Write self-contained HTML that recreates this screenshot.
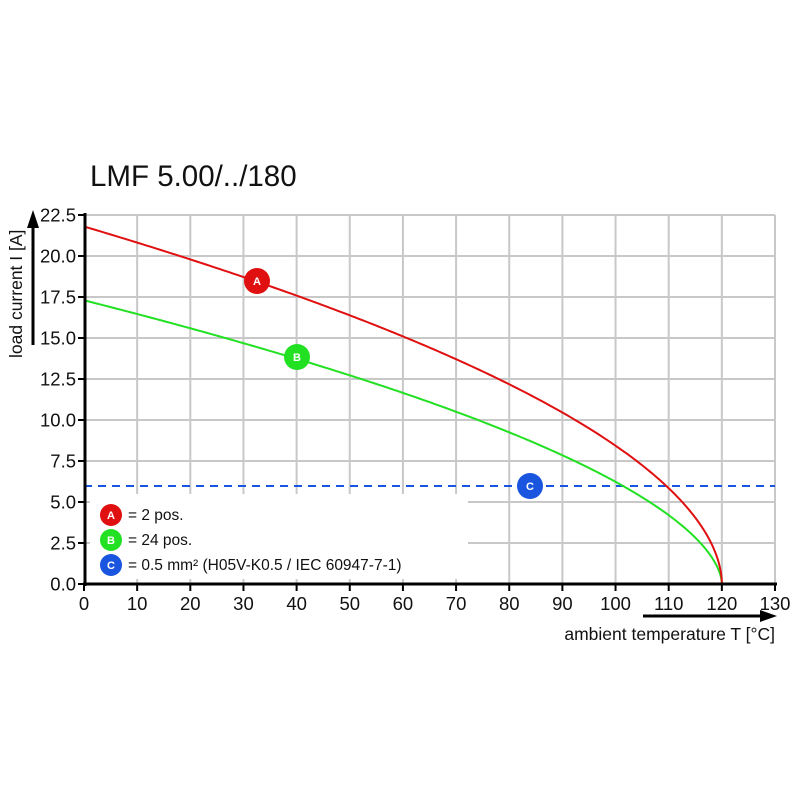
<!DOCTYPE html>
<html><head><meta charset="utf-8"><style>
body{margin:0;background:#fff}
svg text{font-family:"Liberation Sans",Arial,sans-serif}
</style></head><body>
<svg id="s" width="800" height="800" xmlns="http://www.w3.org/2000/svg">
<text x="90" y="186" font-size="29.5" fill="#111">LMF 5.00/../180</text>
<g id="grid" stroke="#c8c8c8" stroke-width="2"></g>
<rect x="90" y="494" width="378" height="85" fill="#fff"/>
<line x1="84" y1="486" x2="775" y2="486" stroke="#1a55e0" stroke-width="2" stroke-dasharray="8,6"/>
<path id="g" fill="none" stroke="#22e022" stroke-width="2"/>
<path id="r" fill="none" stroke="#e01010" stroke-width="2"/>
<line x1="85" y1="213" x2="85" y2="586" stroke="#000" stroke-width="3"/>
<line x1="83" y1="584" x2="777" y2="584" stroke="#000" stroke-width="3"/>
<g id="lab" font-size="18.5" fill="#111"></g>
<line x1="33" y1="345" x2="33" y2="225" stroke="#000" stroke-width="3"/>
<polygon points="27,228 39,228 33,210" fill="#000"/>
<text transform="translate(22,358) rotate(-90)" font-size="17.5" fill="#111">load current I [A]</text>
<line x1="643" y1="616" x2="762" y2="616" stroke="#000" stroke-width="3"/>
<polygon points="760,610 760,622 777,616" fill="#000"/>
<text x="775" y="640" font-size="17.5" fill="#111" text-anchor="end">ambient temperature T [°C]</text>
<g font-size="11" font-weight="bold" fill="#fff" text-anchor="middle">
<circle cx="257" cy="281" r="13" fill="#e01010"/><text x="257" y="285">A</text>
<circle cx="297" cy="357" r="13" fill="#22e022"/><text x="297" y="361">B</text>
<circle cx="530" cy="486" r="13" fill="#1a55e0"/><text x="530" y="490">C</text>
<circle cx="111" cy="515" r="11" fill="#e01010"/><text x="111" y="519">A</text>
<circle cx="111" cy="540" r="11" fill="#22e022"/><text x="111" y="544">B</text>
<circle cx="111" cy="565" r="11" fill="#1a55e0"/><text x="111" y="569">C</text>
</g>
<g font-size="15.5" fill="#111">
<text x="128" y="520">= 2 pos.</text>
<text x="128" y="545">= 24 pos.</text>
<text x="128" y="570">= 0.5 mm² (H05V-K0.5 / IEC 60947-7-1)</text>
</g>
</svg>
<script>
var ns="http://www.w3.org/2000/svg";
function X(t){return 84+t*(691/130)}
function Y(i){return 584-i*(369/22.5)}
var g=document.getElementById('grid'),lab=document.getElementById('lab');
function el(p,tag,a,txt){var e=document.createElementNS(ns,tag);for(var k in a)e.setAttribute(k,a[k]);if(txt)e.textContent=txt;p.appendChild(e);return e}
for(var t=0;t<=130;t+=10){var x=X(t);if(t>0)el(g,'line',{x1:x,y1:215,x2:x,y2:584});
el(lab,'line',{x1:x,y1:584,x2:x,y2:591,stroke:'#000','stroke-width':2});
el(lab,'text',{x:x,y:610,'text-anchor':'middle'},String(t));}
for(var k=0;k<=9;k++){var v=k*2.5,y=Y(v);if(k>0)el(g,'line',{x1:84,y1:y,x2:775,y2:y});
el(lab,'line',{x1:78,y1:y,x2:85,y2:y,stroke:'#000','stroke-width':2});
el(lab,'text',{x:76,y:y+6.5,'text-anchor':'end'},v.toFixed(1));}
function curve(id,I0,p){var d='';for(var i=0;i<=240;i++){var t=120*(1-Math.pow(1-i/240,2));var v=I0*Math.pow(Math.max(0,1-t/120),p);d+=(i?'L':'M')+X(t).toFixed(2)+','+Y(v).toFixed(2)}document.getElementById(id).setAttribute('d',d)}
curve('r',21.8,0.53);curve('g',17.3,0.57);
</script>
</body></html>
